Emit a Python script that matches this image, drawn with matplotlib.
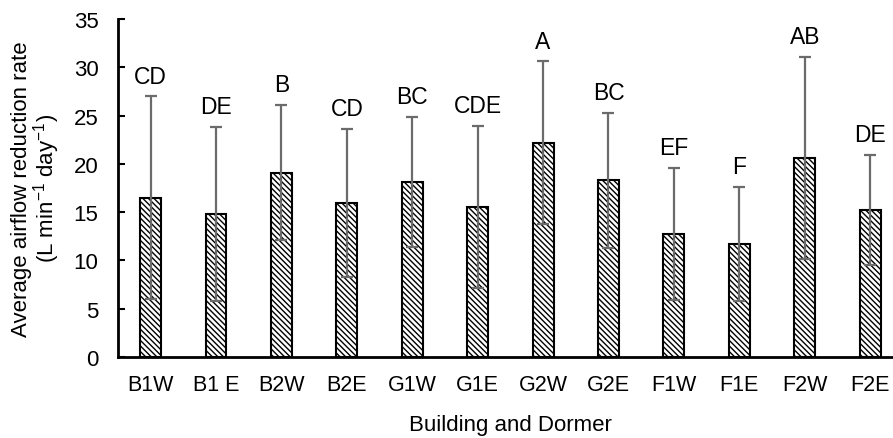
import matplotlib
matplotlib.use("Agg")
import matplotlib.pyplot as plt

plt.rcParams['font.family'] = ['Liberation Sans', 'DejaVu Sans']
plt.rcParams['hatch.linewidth'] = 1.0
plt.rcParams['axes.unicode_minus'] = False

# data
dormers = ["B1W", "B1 E", "B2W", "B2E", "G1W", "G1E", "G2W", "G2E", "F1W", "F1E", "F2W", "F2E"]
means = [16.5, 14.8, 19.1, 15.95, 18.15, 15.5, 22.2, 18.3, 12.75, 11.7, 20.6, 15.2]
errs = [10.5, 9.0, 7.0, 7.65, 6.75, 8.4, 8.4, 7.0, 6.8, 5.9, 10.5, 5.7]
letters = ["CD", "DE", "B", "CD", "BC", "CDE", "A", "BC", "EF", "F", "AB", "DE"]

fig = plt.figure(figsize=(8.93, 4.39), dpi=100)
ax = fig.add_axes([0.132, 0.1845, 0.879, 0.77])

x = range(len(dormers))
ax.bar(x, means, width=0.32, color='white', edgecolor='black', linewidth=1.5,
       hatch='\\\\\\\\\\\\', zorder=2)
ax.errorbar(x, means, yerr=errs, fmt='none', ecolor='#6b6b6b', elinewidth=1.6,
            capsize=4.5, capthick=1.6, zorder=3)

for i, (m, e, lab) in enumerate(zip(means, errs, letters)):
    ax.text(i, m + e + 0.9, lab, ha='center', va='bottom', fontsize=16.5)

ax.set_xlim(-0.5, 11.5)
ax.set_ylim(0, 35)
ax.set_yticks(range(0, 36, 5))
ax.set_xticks(list(x))
ax.set_xticklabels(dormers, fontsize=15.5)
ax.tick_params(axis='y', labelsize=16, length=5, width=1.5, direction='in', pad=14)
ax.tick_params(axis='x', length=0, pad=12)

for s in ['top', 'right']:
    ax.spines[s].set_visible(False)
for s in ['left', 'bottom']:
    ax.spines[s].set_linewidth(2)

ax.set_xlabel("Building and Dormer", fontsize=16, labelpad=14)
ax.set_ylabel("Average airflow reduction rate\n(L min$^{\\mathregular{-1}}$ day$^{\\mathregular{-1}}$)",
              fontsize=16, linespacing=1.0, labelpad=8)

fig.savefig("out.png", dpi=100)
